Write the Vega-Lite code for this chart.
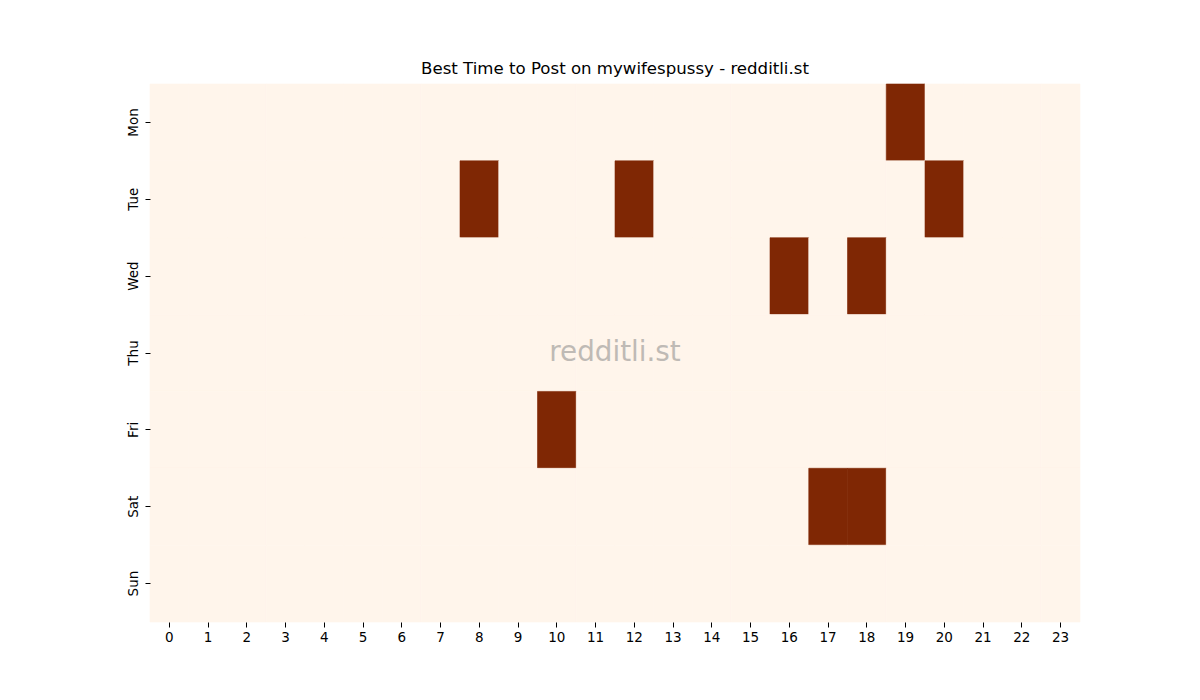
{
  "$schema": "https://vega.github.io/schema/vega-lite/v6.json",
  "autosize": "none",
  "width": 930,
  "height": 538,
  "padding": {"left": 150, "top": 84, "right": 120, "bottom": 78},
  "background": "white",
  "config": {"view": {"stroke": null}, "font": "DejaVu Sans"},
  "title": {"text": "Best Time to Post on mywifespussy - redditli.st", "fontSize": 16.6, "fontWeight": "normal", "font": "DejaVu Sans", "color": "black", "offset": 6},
  "datasets": {
    "cells": [
      {"day":"Mon","hour":0,"v":0},{"day":"Mon","hour":1,"v":0},{"day":"Mon","hour":2,"v":0},{"day":"Mon","hour":3,"v":0},{"day":"Mon","hour":4,"v":0},{"day":"Mon","hour":5,"v":0},{"day":"Mon","hour":6,"v":0},{"day":"Mon","hour":7,"v":0},{"day":"Mon","hour":8,"v":0},{"day":"Mon","hour":9,"v":0},{"day":"Mon","hour":10,"v":0},{"day":"Mon","hour":11,"v":0},{"day":"Mon","hour":12,"v":0},{"day":"Mon","hour":13,"v":0},{"day":"Mon","hour":14,"v":0},{"day":"Mon","hour":15,"v":0},{"day":"Mon","hour":16,"v":0},{"day":"Mon","hour":17,"v":0},{"day":"Mon","hour":18,"v":0},{"day":"Mon","hour":19,"v":1},{"day":"Mon","hour":20,"v":0},{"day":"Mon","hour":21,"v":0},{"day":"Mon","hour":22,"v":0},{"day":"Mon","hour":23,"v":0},
      {"day":"Tue","hour":0,"v":0},{"day":"Tue","hour":1,"v":0},{"day":"Tue","hour":2,"v":0},{"day":"Tue","hour":3,"v":0},{"day":"Tue","hour":4,"v":0},{"day":"Tue","hour":5,"v":0},{"day":"Tue","hour":6,"v":0},{"day":"Tue","hour":7,"v":0},{"day":"Tue","hour":8,"v":1},{"day":"Tue","hour":9,"v":0},{"day":"Tue","hour":10,"v":0},{"day":"Tue","hour":11,"v":0},{"day":"Tue","hour":12,"v":1},{"day":"Tue","hour":13,"v":0},{"day":"Tue","hour":14,"v":0},{"day":"Tue","hour":15,"v":0},{"day":"Tue","hour":16,"v":0},{"day":"Tue","hour":17,"v":0},{"day":"Tue","hour":18,"v":0},{"day":"Tue","hour":19,"v":0},{"day":"Tue","hour":20,"v":1},{"day":"Tue","hour":21,"v":0},{"day":"Tue","hour":22,"v":0},{"day":"Tue","hour":23,"v":0},
      {"day":"Wed","hour":0,"v":0},{"day":"Wed","hour":1,"v":0},{"day":"Wed","hour":2,"v":0},{"day":"Wed","hour":3,"v":0},{"day":"Wed","hour":4,"v":0},{"day":"Wed","hour":5,"v":0},{"day":"Wed","hour":6,"v":0},{"day":"Wed","hour":7,"v":0},{"day":"Wed","hour":8,"v":0},{"day":"Wed","hour":9,"v":0},{"day":"Wed","hour":10,"v":0},{"day":"Wed","hour":11,"v":0},{"day":"Wed","hour":12,"v":0},{"day":"Wed","hour":13,"v":0},{"day":"Wed","hour":14,"v":0},{"day":"Wed","hour":15,"v":0},{"day":"Wed","hour":16,"v":1},{"day":"Wed","hour":17,"v":0},{"day":"Wed","hour":18,"v":1},{"day":"Wed","hour":19,"v":0},{"day":"Wed","hour":20,"v":0},{"day":"Wed","hour":21,"v":0},{"day":"Wed","hour":22,"v":0},{"day":"Wed","hour":23,"v":0},
      {"day":"Thu","hour":0,"v":0},{"day":"Thu","hour":1,"v":0},{"day":"Thu","hour":2,"v":0},{"day":"Thu","hour":3,"v":0},{"day":"Thu","hour":4,"v":0},{"day":"Thu","hour":5,"v":0},{"day":"Thu","hour":6,"v":0},{"day":"Thu","hour":7,"v":0},{"day":"Thu","hour":8,"v":0},{"day":"Thu","hour":9,"v":0},{"day":"Thu","hour":10,"v":0},{"day":"Thu","hour":11,"v":0},{"day":"Thu","hour":12,"v":0},{"day":"Thu","hour":13,"v":0},{"day":"Thu","hour":14,"v":0},{"day":"Thu","hour":15,"v":0},{"day":"Thu","hour":16,"v":0},{"day":"Thu","hour":17,"v":0},{"day":"Thu","hour":18,"v":0},{"day":"Thu","hour":19,"v":0},{"day":"Thu","hour":20,"v":0},{"day":"Thu","hour":21,"v":0},{"day":"Thu","hour":22,"v":0},{"day":"Thu","hour":23,"v":0},
      {"day":"Fri","hour":0,"v":0},{"day":"Fri","hour":1,"v":0},{"day":"Fri","hour":2,"v":0},{"day":"Fri","hour":3,"v":0},{"day":"Fri","hour":4,"v":0},{"day":"Fri","hour":5,"v":0},{"day":"Fri","hour":6,"v":0},{"day":"Fri","hour":7,"v":0},{"day":"Fri","hour":8,"v":0},{"day":"Fri","hour":9,"v":0},{"day":"Fri","hour":10,"v":1},{"day":"Fri","hour":11,"v":0},{"day":"Fri","hour":12,"v":0},{"day":"Fri","hour":13,"v":0},{"day":"Fri","hour":14,"v":0},{"day":"Fri","hour":15,"v":0},{"day":"Fri","hour":16,"v":0},{"day":"Fri","hour":17,"v":0},{"day":"Fri","hour":18,"v":0},{"day":"Fri","hour":19,"v":0},{"day":"Fri","hour":20,"v":0},{"day":"Fri","hour":21,"v":0},{"day":"Fri","hour":22,"v":0},{"day":"Fri","hour":23,"v":0},
      {"day":"Sat","hour":0,"v":0},{"day":"Sat","hour":1,"v":0},{"day":"Sat","hour":2,"v":0},{"day":"Sat","hour":3,"v":0},{"day":"Sat","hour":4,"v":0},{"day":"Sat","hour":5,"v":0},{"day":"Sat","hour":6,"v":0},{"day":"Sat","hour":7,"v":0},{"day":"Sat","hour":8,"v":0},{"day":"Sat","hour":9,"v":0},{"day":"Sat","hour":10,"v":0},{"day":"Sat","hour":11,"v":0},{"day":"Sat","hour":12,"v":0},{"day":"Sat","hour":13,"v":0},{"day":"Sat","hour":14,"v":0},{"day":"Sat","hour":15,"v":0},{"day":"Sat","hour":16,"v":0},{"day":"Sat","hour":17,"v":1},{"day":"Sat","hour":18,"v":1},{"day":"Sat","hour":19,"v":0},{"day":"Sat","hour":20,"v":0},{"day":"Sat","hour":21,"v":0},{"day":"Sat","hour":22,"v":0},{"day":"Sat","hour":23,"v":0},
      {"day":"Sun","hour":0,"v":0},{"day":"Sun","hour":1,"v":0},{"day":"Sun","hour":2,"v":0},{"day":"Sun","hour":3,"v":0},{"day":"Sun","hour":4,"v":0},{"day":"Sun","hour":5,"v":0},{"day":"Sun","hour":6,"v":0},{"day":"Sun","hour":7,"v":0},{"day":"Sun","hour":8,"v":0},{"day":"Sun","hour":9,"v":0},{"day":"Sun","hour":10,"v":0},{"day":"Sun","hour":11,"v":0},{"day":"Sun","hour":12,"v":0},{"day":"Sun","hour":13,"v":0},{"day":"Sun","hour":14,"v":0},{"day":"Sun","hour":15,"v":0},{"day":"Sun","hour":16,"v":0},{"day":"Sun","hour":17,"v":0},{"day":"Sun","hour":18,"v":0},{"day":"Sun","hour":19,"v":0},{"day":"Sun","hour":20,"v":0},{"day":"Sun","hour":21,"v":0},{"day":"Sun","hour":22,"v":0},{"day":"Sun","hour":23,"v":0}
    ],
    "mark": [{"day":"Thu","hour":12,"label":"redditli.st"}]
  },
  "encoding": {
    "x": {"field": "hour", "type": "ordinal", "title": null,
      "scale": {"paddingInner": 0, "paddingOuter": 0},
      "axis": {"labelAngle": 0, "domain": false, "tickColor": "black", "tickSize": 5, "labelFontSize": 13.5, "labelColor": "black", "labelFont": "DejaVu Sans", "labelPadding": 3}},
    "y": {"field": "day", "type": "ordinal", "title": null,
      "sort": ["Mon","Tue","Wed","Thu","Fri","Sat","Sun"],
      "scale": {"domain": ["Mon","Tue","Wed","Thu","Fri","Sat","Sun"], "paddingInner": 0, "paddingOuter": 0},
      "axis": {"labelAngle": -90, "labelAlign": "center", "labelBaseline": "bottom", "domain": false, "tickColor": "black", "tickSize": 5, "labelFontSize": 13.5, "labelColor": "black", "labelFont": "DejaVu Sans", "labelPadding": 5}}
  },
  "layer": [
    {
      "data": {"name": "cells"},
      "mark": {"type": "rect", "strokeWidth": 0.6},
      "encoding": {
        "color": {"field": "v", "type": "quantitative", "scale": {"domain": [0, 1], "range": ["#fff5eb", "#7f2704"]}, "legend": null},
        "stroke": {"field": "v", "type": "quantitative", "scale": {"domain": [0, 1], "range": ["#fff5eb", "#7f2704"]}, "legend": null}
      }
    },
    {
      "data": {"name": "mark"},
      "mark": {"type": "text", "fontSize": 27.8, "color": "#808080", "opacity": 0.5, "align": "center", "baseline": "middle", "font": "DejaVu Sans"},
      "encoding": {
        "x": {"field": "hour", "type": "ordinal", "bandPosition": 0},
        "text": {"field": "label"}
      }
    }
  ]
}
